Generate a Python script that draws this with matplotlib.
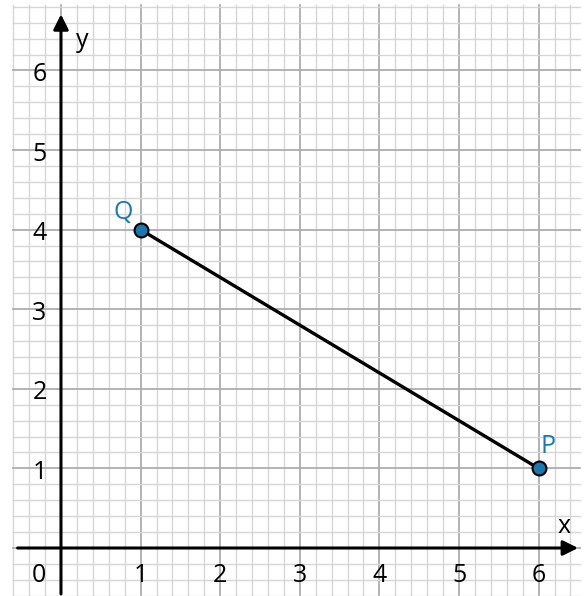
import numpy as np
import matplotlib.pyplot as plt

# points and labels
pt_names = ['Q', 'P']
pt_x = [1, 6]
pt_y = [4, 1]
x_ticks = [0, 1, 2, 3, 4, 5, 6]
y_ticks = [1, 2, 3, 4, 5, 6]

blue = '#1878b0'
plt.rcParams['font.family'] = ['Open Sans', 'DejaVu Sans']

fig = plt.figure(figsize=(5.84, 5.96), dpi=100)
ax = fig.add_axes([0, 0, 1, 1])
ax.set_xlim(-0.766, 6.57)
ax.set_ylim(-0.603, 6.885)
ax.axis('off')

# grid paper
gx0, gx1 = -0.6, 6.52
gy0, gy1 = -0.6, 6.82
for v in np.arange(-3, 34) / 5:
    major = abs(v - round(v)) < 1e-9
    c = '#adadad' if major else '#d6d6d6'
    lw = 1.3 if major else 1.0
    if gx0 - 1e-9 <= v <= gx1 + 1e-9:
        ax.plot([v, v], [gy0, gy1], color=c, lw=lw, zorder=1)
for v in np.arange(-3, 35) / 5:
    major = abs(v - round(v)) < 1e-9
    c = '#adadad' if major else '#d6d6d6'
    lw = 1.3 if major else 1.0
    if gy0 - 1e-9 <= v <= gy1 + 1e-9:
        ax.plot([gx0, gx1], [v, v], color=c, lw=lw, zorder=1)

# axes with arrows
ax.annotate('', xy=(6.53, 0), xytext=(-0.58, 0),
            arrowprops=dict(arrowstyle='-|>,head_length=0.9,head_width=0.45', color='black', lw=2.2), zorder=3)
ax.annotate('', xy=(0, 6.74), xytext=(0, -0.61),
            arrowprops=dict(arrowstyle='-|>,head_length=0.9,head_width=0.45', color='black', lw=2.2), zorder=3)

for t in x_ticks:
    xx = -0.28 if t == 0 else t
    ax.text(xx, -0.34, str(t), fontsize=18, ha='center', va='center', zorder=4)
for t in y_ticks:
    ax.text(-0.27, t - 0.05, str(t), fontsize=18, ha='center', va='center', zorder=4)
ax.text(0.27, 6.38, 'y', fontsize=18, ha='center', va='center', zorder=4)
ax.text(6.32, 0.27, 'x', fontsize=18, ha='center', va='center', zorder=4)

# segment
ax.plot(pt_x, pt_y, color='black', lw=2.4, zorder=5)
ax.plot(pt_x, pt_y, 'o', color=blue, mec='black', mew=1.5, ms=10, zorder=6)
ax.text(pt_x[0] - 0.22, pt_y[0] + 0.21, pt_names[0], fontsize=18, color=blue, ha='center', va='center', zorder=6)
ax.text(pt_x[1] + 0.12, pt_y[1] + 0.27, pt_names[1], fontsize=18, color=blue, ha='center', va='center', zorder=6)

fig.savefig('out.png', dpi=100)
